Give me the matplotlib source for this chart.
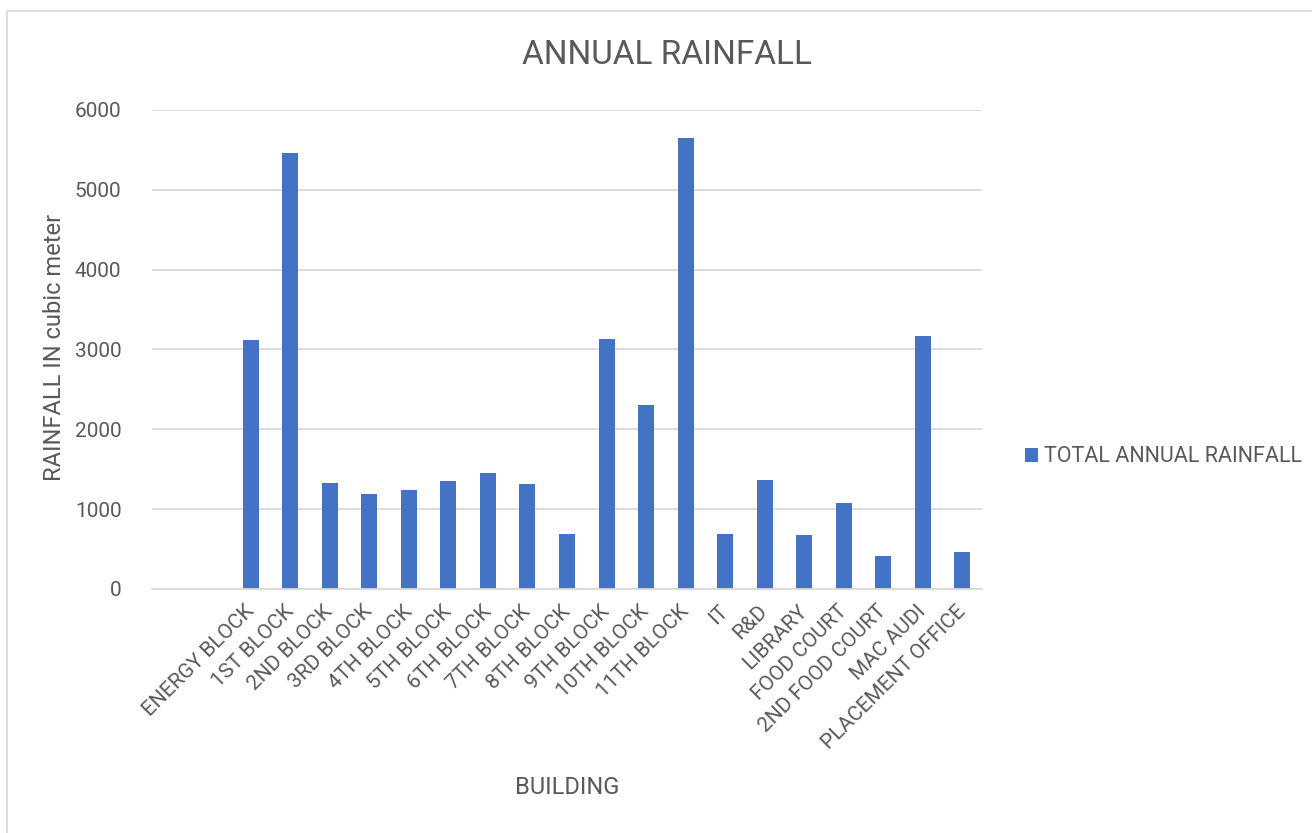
import matplotlib
matplotlib.use("Agg")
import matplotlib.pyplot as plt
from matplotlib.patches import Rectangle
import numpy as np

buildings = ["ENERGY BLOCK", "1ST BLOCK", "2ND BLOCK", "3RD BLOCK", "4TH BLOCK",
             "5TH BLOCK", "6TH BLOCK", "7TH BLOCK", "8TH BLOCK", "9TH BLOCK",
             "10TH BLOCK", "11TH BLOCK", "IT", "R&D", "LIBRARY", "FOOD COURT",
             "2ND FOOD COURT", "MAC AUDI", "PLACEMENT OFFICE"]
rainfall = [3125, 5465, 1330, 1195, 1240, 1350, 1455, 1320, 695, 3132,
            2310, 5655, 695, 1360, 680, 1080, 415, 3166, 460]
series_name = "TOTAL ANNUAL RAINFALL"
yticks = [0, 1000, 2000, 3000, 4000, 5000, 6000]

plt.rcParams['font.family'] = ['Roboto', 'DejaVu Sans']
txt = '#595959'
grid = '#d9d9d9'
bar_color = '#4472C4'

W, H = 1312, 833
fig = plt.figure(figsize=(W/100, H/100), dpi=100)
ax = fig.add_axes([152/W, 1-589/H, (982-152)/W, (589-110)/H])

x = np.arange(len(buildings))
ax.bar(x, rainfall, width=0.405, color=bar_color, label=series_name, zorder=3)

ax.set_xlim(-2.5, len(buildings) - 0.5)
ax.set_ylim(0, 6000)
ax.set_yticks(yticks)
ax.set_yticklabels([str(v) for v in yticks], fontsize=15, color=txt)
ax.set_xticks(x)
ax.set_xticklabels(buildings, rotation=45, ha='right', va='center',
                   rotation_mode='anchor', fontsize=15, color=txt)
ax.tick_params(axis='both', length=0)
ax.tick_params(axis='y', pad=22)
ax.tick_params(axis='x', pad=14)

ax.grid(axis='y', color=grid, linewidth=1.3, zorder=0)
for s in ['top', 'right', 'left']:
    ax.spines[s].set_visible(False)
ax.spines['bottom'].set_color(grid)
ax.spines['bottom'].set_linewidth(1.3)
ax.spines['bottom'].set_zorder(4)

fig.text(667/W, 1-55/H, "ANNUAL RAINFALL", ha='center', va='center',
         fontsize=24, color=txt)
fig.text(567/W, 1-787/H, "BUILDING", ha='center', va='center',
         fontsize=17, color=txt)
fig.text(55/W, 1-347/H, "RAINFALL IN cubic meter", ha='center', va='center',
         rotation=90, fontsize=17, color=txt)

leg = fig.legend(loc='center left', bbox_to_anchor=(1025/W, 1-457/H),
                 frameon=False, fontsize=15.5, handlelength=0.6, handleheight=0.6,
                 handletextpad=0.3, borderaxespad=0, borderpad=0)
for t in leg.get_texts():
    t.set_color(txt)

fig.patches.append(Rectangle((7/W, -0.05), 1.2, 1 - 11/H + 0.05,
                             transform=fig.transFigure, fill=False,
                             edgecolor='#d9d9d9', linewidth=1.3))

fig.savefig("out.png", dpi=100, facecolor='white')
